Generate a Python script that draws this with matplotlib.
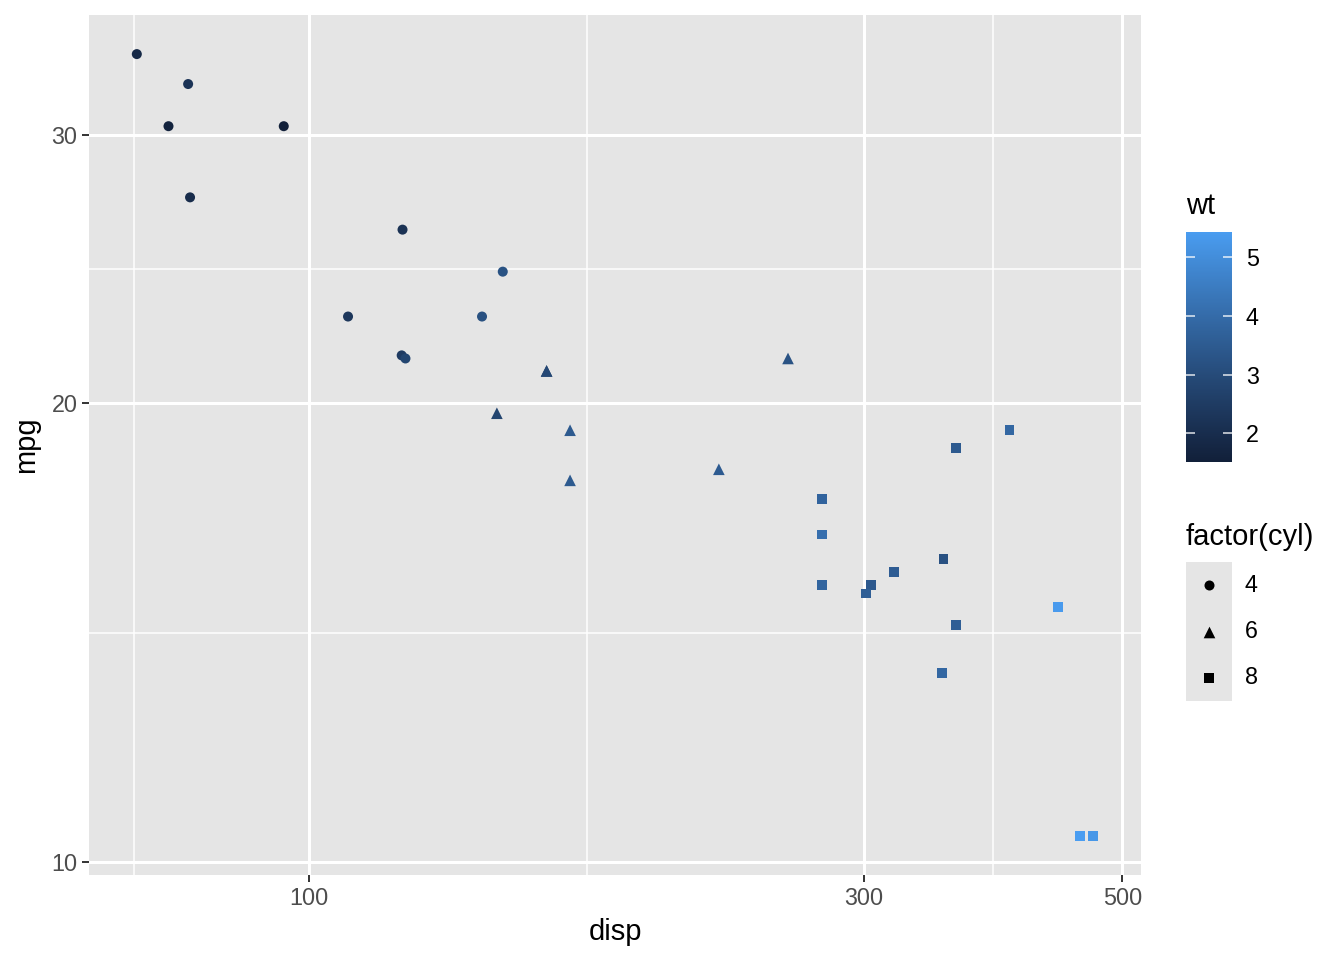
import numpy as np
import matplotlib
matplotlib.use("Agg")
import matplotlib.pyplot as plt
from matplotlib.colors import ListedColormap
from matplotlib.ticker import NullFormatter

plt.rcParams['font.family'] = ['Liberation Sans', 'DejaVu Sans']

# mtcars
disp = [160, 160, 108, 258, 360, 225, 360, 146.7, 140.8, 167.6, 167.6, 275.8, 275.8, 275.8,
        472, 460, 440, 78.7, 75.7, 71.1, 120.1, 318, 304, 350, 400, 79.0, 120.3, 95.1,
        351, 145, 301, 121]
mpg = [21.0, 21.0, 22.8, 21.4, 18.7, 18.1, 14.3, 24.4, 22.8, 19.2, 17.8, 16.4, 17.3, 15.2,
       10.4, 10.4, 14.7, 32.4, 30.4, 33.9, 21.5, 15.5, 15.2, 13.3, 19.2, 27.3, 26.0, 30.4,
       15.8, 19.7, 15.0, 21.4]
cyl = [6, 6, 4, 6, 8, 6, 8, 4, 4, 6, 6, 8, 8, 8, 8, 8, 8, 4, 4, 4, 4, 8, 8, 8, 8, 4, 4, 4,
       8, 6, 8, 4]
wt = [2.620, 2.875, 2.320, 3.215, 3.440, 3.460, 3.570, 3.190, 3.150, 3.440, 3.440, 4.070,
      3.730, 3.780, 5.250, 5.424, 5.345, 2.200, 1.615, 1.835, 2.465, 3.520, 3.435, 3.840,
      3.845, 1.935, 2.140, 1.513, 3.170, 2.770, 3.570, 2.780]

cyl_levels = [4, 6, 8]
cyl_markers = {4: 'o', 6: '^', 8: 's'}
cyl_sizes = {4: 52, 6: 70, 8: 50}
x_breaks = [100, 300, 500]
y_breaks = [10, 20, 30]
wt_breaks = [2, 3, 4, 5]

disp = np.array(disp)
mpg = np.array(mpg)
cyl = np.array(cyl)
wt = np.array(wt)

# gradient dark -> light blue, interpolated in Lab space
M = np.array([[0.4124, 0.3576, 0.1805], [0.2126, 0.7152, 0.0722], [0.0193, 0.1192, 0.9505]])
WHITE = np.array([0.95047, 1.0, 1.08883])


def hex_to_lab(h):
    c = np.array([int(h[i:i + 2], 16) for i in (1, 3, 5)]) / 255
    lin = np.where(c <= 0.04045, c / 12.92, ((c + 0.055) / 1.055) ** 2.4)
    xyz = M @ lin / WHITE
    f = np.where(xyz > 0.008856, np.cbrt(xyz), 7.787 * xyz + 16 / 116)
    return np.array([116 * f[1] - 16, 500 * (f[0] - f[1]), 200 * (f[1] - f[2])])


def lab_to_rgb(lab):
    fy = (lab[0] + 16) / 116
    f = np.array([fy + lab[1] / 500, fy, fy - lab[2] / 200])
    xyz = np.where(f ** 3 > 0.008856, f ** 3, (f - 16 / 116) / 7.787) * WHITE
    lin = np.linalg.solve(M, xyz)
    c = np.where(lin <= 0.0031308, 12.92 * lin, 1.055 * np.abs(lin) ** (1 / 2.4) - 0.055)
    return np.clip(c, 0, 1)


lo, hi = hex_to_lab("#12203A"), hex_to_lab("#4A9DF1")
cmap = ListedColormap([lab_to_rgb(lo + t * (hi - lo)) for t in np.linspace(0, 1, 256)])
vmin, vmax = wt.min(), wt.max()
panel_bg = '#E5E5E5'

fig = plt.figure(figsize=(13.44, 9.6), dpi=100)
ax = fig.add_axes([89 / 1344, 85 / 960, 1052 / 1344, 860 / 960])
ax.set_facecolor(panel_bg)
for s in ax.spines.values():
    s.set_visible(False)

for c in cyl_levels:
    m = cyl == c
    ax.scatter(disp[m], mpg[m], c=wt[m], cmap=cmap, vmin=vmin, vmax=vmax,
               marker=cyl_markers[c], s=cyl_sizes[c], linewidths=0, zorder=3)

ax.set_xscale('log')
ax.set_yscale('log')


def log_lims(v):
    a, b = np.log10(v.min()), np.log10(v.max())
    e = (b - a) * 0.05
    return 10 ** (a - e), 10 ** (b + e)


ax.set_xlim(*log_lims(disp))
ax.set_ylim(*log_lims(mpg))

ax.set_xticks(x_breaks)
ax.set_xticklabels([str(b) for b in x_breaks])
ax.set_yticks(y_breaks)
ax.set_yticklabels([str(b) for b in y_breaks])
ax.set_xticks([np.sqrt(50 * 100), np.sqrt(100 * 300), np.sqrt(300 * 500)], minor=True)
ax.set_yticks([np.sqrt(10 * 20), np.sqrt(20 * 30)], minor=True)
ax.xaxis.set_minor_formatter(NullFormatter())
ax.yaxis.set_minor_formatter(NullFormatter())
ax.tick_params(which='major', length=5.3, width=1.4, color='#333333',
               labelsize=16.8, labelcolor='#4D4D4D', pad=3)
ax.tick_params(which='minor', length=0)
ax.grid(which='major', color='white', lw=2.2)
ax.grid(which='minor', color='white', lw=1.1)
ax.set_axisbelow(True)

ax.set_xlabel('disp', fontsize=21, labelpad=6)
ax.set_ylabel('mpg', fontsize=21, labelpad=8)

# colourbar legend
cax = fig.add_axes([1186 / 1344, 498 / 960, 46 / 1344, 230 / 960])
grad = np.linspace(vmin, vmax, 300).reshape(-1, 1)
cax.imshow(grad, cmap=cmap, vmin=vmin, vmax=vmax, origin='lower', aspect='auto',
           extent=[0, 1, vmin, vmax])
cax.set_xlim(0, 1)
cax.set_ylim(vmin, vmax)
cax.hlines(wt_breaks, 0, 0.2, color='white', lw=1.2, alpha=0.8)
cax.hlines(wt_breaks, 0.8, 1, color='white', lw=1.2, alpha=0.8)
cax.set_xticks([])
cax.set_yticks(wt_breaks)
cax.yaxis.tick_right()
cax.tick_params(axis='y', length=0, labelsize=16.8, pad=10)
for s in cax.spines.values():
    s.set_visible(False)
fig.text(1186 / 1344, 1 - 206 / 960, 'wt', fontsize=21, va='center', ha='left')

# shape legend
lax = fig.add_axes([1186 / 1344, 259 / 960, 46 / 1344, 139 / 960])
lax.set_facecolor(panel_bg)
lax.set_xlim(0, 1)
lax.set_ylim(0, 3)
for i, c in enumerate(cyl_levels):
    yy = 2.5 - i
    lax.scatter([0.5], [yy], marker=cyl_markers[c], s=cyl_sizes[c], color='black', linewidths=0)
    lax.text(1.28, yy, str(c), fontsize=16.8, va='center', ha='left', clip_on=False)
lax.set_xticks([])
lax.set_yticks([])
for s in lax.spines.values():
    s.set_visible(False)
fig.text(1186 / 1344, 1 - 537 / 960, 'factor(cyl)', fontsize=21, va='center', ha='left')

fig.savefig('out.png', dpi=100)
